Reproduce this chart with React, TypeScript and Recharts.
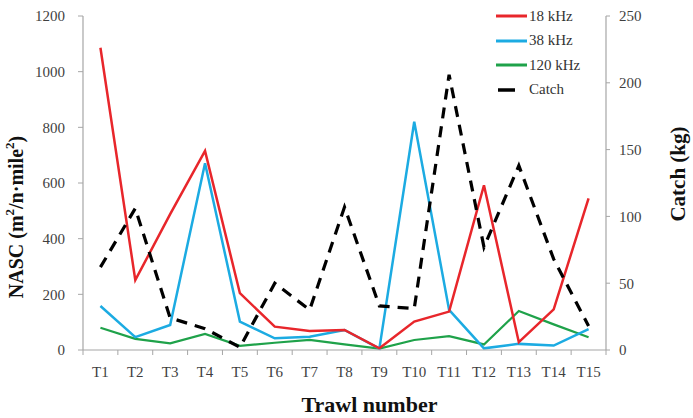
import React from 'react';
import { LineChart, Line, XAxis, YAxis } from 'recharts';

// trawl stations
const trawls = ['T1', 'T2', 'T3', 'T4', 'T5', 'T6', 'T7', 'T8', 'T9', 'T10', 'T11', 'T12', 'T13', 'T14', 'T15'];

// NASC (m2/n.mile2) per frequency
const nasc18 = [1086, 251, 488, 715, 204, 84, 68, 72, 6, 102, 138, 592, 28, 146, 545];
const nasc38 = [158, 46, 90, 671, 102, 42, 48, 72, 5, 820, 144, 6, 22, 16, 75];
const nasc120 = [80, 40, 24, 58, 15, 26, 36, 20, 5, 36, 50, 20, 140, 92, 46];

// catch (kg)
const catchKg = [62, 106, 24, 16, 2, 50, 30, 107, 33, 31, 206, 77, 138, 68, 18];

const leftTicks = [0, 200, 400, 600, 800, 1000, 1200];
const rightTicks = [0, 50, 100, 150, 200, 250];

const FONT = '"Liberation Serif", "Times New Roman", serif';
const AXIS = '#a6a6a6';
const TICK_TXT = '#3f3f3f';

const data = trawls.map((t, i) => ({
  x: i + 0.5,
  name: t,
  f18: nasc18[i],
  f38: nasc38[i],
  f120: nasc120[i],
  catchKg: catchKg[i],
}));

// tick lines at the band edges, labels at the centres
const xTicks: number[] = [];
for (let i = 0; i <= trawls.length * 2; i++) xTicks.push(i / 2);

const XTick = (props: any) => {
  const { x, y, payload } = props;
  const v = payload.value;
  if (Number.isInteger(v)) {
    return <line x1={x} y1={y - 5} x2={x} y2={y} stroke={AXIS} strokeWidth={1} />;
  }
  return (
    <text x={x} y={y + 22} textAnchor="middle" fontFamily={FONT} fontSize={15} fill={TICK_TXT}>
      {trawls[Math.floor(v)]}
    </text>
  );
};

const LeftTitle = () => {
  const cx = 16;
  const cy = 217;
  return (
    <text
      x={cx}
      y={cy}
      transform={`rotate(-90, ${cx}, ${cy})`}
      textAnchor="middle"
      dominantBaseline="central"
      fontFamily={FONT}
      fontWeight="bold"
      fontSize={20}
      fill="#111"
    >
      NASC (m<tspan fontSize={13} dy={-7}>2</tspan>
      <tspan dy={7}>/n·mile</tspan>
      <tspan fontSize={13} dy={-7}>2</tspan>
      <tspan dy={7}>)</tspan>
    </text>
  );
};

const RightTitle = () => {
  const cx = 678;
  const cy = 174;
  return (
    <text
      x={cx}
      y={cy}
      transform={`rotate(-90, ${cx}, ${cy})`}
      textAnchor="middle"
      dominantBaseline="central"
      fontFamily={FONT}
      fontWeight="bold"
      fontSize={21}
      fill="#111"
    >
      Catch (kg)
    </text>
  );
};

const BottomTitle = (props: any) => {
  const { viewBox } = props;
  return (
    <text
      x={viewBox.x + viewBox.width / 2 + 25}
      y={viewBox.y + 62}
      textAnchor="middle"
      fontFamily={FONT}
      fontWeight="bold"
      fontSize={22}
      fill="#111"
    >
      Trawl number
    </text>
  );
};

const legendItems = [
  { label: '18 kHz', color: '#e8262b', dashed: false },
  { label: '38 kHz', color: '#1cabe2', dashed: false },
  { label: '120 kHz', color: '#1fa24a', dashed: false },
  { label: 'Catch', color: '#000', dashed: true },
];

const ChartLegend = () => (
  <div style={{ position: 'absolute', left: 496, top: 4, fontFamily: FONT, fontSize: 15, color: '#333' }}>
    {legendItems.map((it) => (
      <div key={it.label} style={{ display: 'flex', alignItems: 'center', height: 24.5 }}>
        <svg width={32} height={8} style={{ marginRight: 1 }}>
          {it.dashed ? (
            <line x1={2} y1={4} x2={19} y2={4} stroke={it.color} strokeWidth={3.5} />
          ) : (
            <line x1={0} y1={4} x2={31} y2={4} stroke={it.color} strokeWidth={3} />
          )}
        </svg>
        <span>{it.label}</span>
      </div>
    ))}
  </div>
);

export default function App() {
  return (
    <div style={{ position: 'absolute', left: 0, top: 0, width: 693, height: 418, background: '#fff', fontFamily: FONT }}>
      <LineChart
        width={693}
        height={418}
        data={data}
        margin={{ top: 16, right: 0, bottom: 0, left: 0 }}
        style={{ fontFamily: FONT }}
      >
        <XAxis
          dataKey="x"
          type="number"
          domain={[0, 15]}
          ticks={xTicks}
          interval={0}
          height={68}
          tickSize={5}
          tickMargin={0}
          tickLine={false}
          axisLine={{ stroke: AXIS, strokeWidth: 1.2 }}
          tick={<XTick />}
          label={<BottomTitle />}
        />
        <YAxis
          yAxisId="left"
          domain={[0, 1200]}
          ticks={leftTicks}
          width={83}
          tickSize={5}
          tickMargin={13}
          axisLine={{ stroke: AXIS, strokeWidth: 1.2 }}
          tickLine={{ stroke: AXIS }}
          tick={{ fontFamily: FONT, fontSize: 15, fill: TICK_TXT }}
          label={<LeftTitle />}
        />
        <YAxis
          yAxisId="right"
          orientation="right"
          domain={[0, 250]}
          ticks={rightTicks}
          width={87}
          tickSize={4}
          tickMargin={9}
          axisLine={{ stroke: AXIS, strokeWidth: 1.2 }}
          tickLine={{ stroke: AXIS }}
          tick={{ fontFamily: FONT, fontSize: 15, fill: TICK_TXT }}
          label={<RightTitle />}
        />
        <Line yAxisId="left" type="linear" dataKey="f120" stroke="#1fa24a" strokeWidth={2.2} dot={false} isAnimationActive={false} />
        <Line yAxisId="left" type="linear" dataKey="f38" stroke="#1cabe2" strokeWidth={2.5} dot={false} isAnimationActive={false} />
        <Line yAxisId="left" type="linear" dataKey="f18" stroke="#e8262b" strokeWidth={2.5} dot={false} isAnimationActive={false} />
        <Line
          yAxisId="right"
          type="linear"
          dataKey="catchKg"
          stroke="#000"
          strokeWidth={3.2}
          strokeDasharray="11 8"
          dot={false}
          isAnimationActive={false}
        />
      </LineChart>
      <ChartLegend />
    </div>
  );
}
